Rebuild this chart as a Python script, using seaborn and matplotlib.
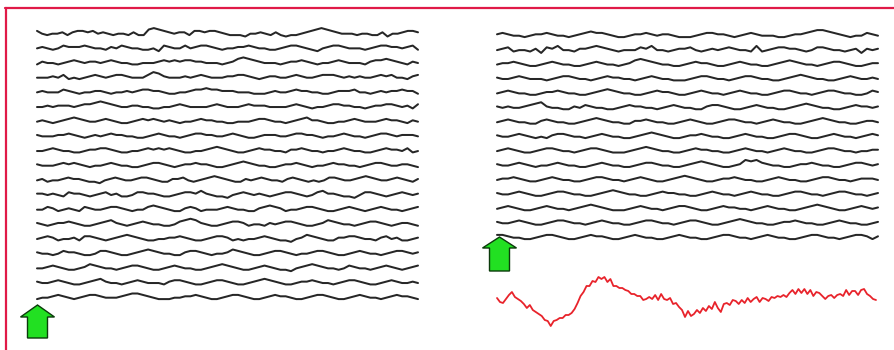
import numpy as np
import pandas as pd
import matplotlib
matplotlib.use("Agg")
import matplotlib.pyplot as plt
import seaborn as sns
from matplotlib.patches import Polygon
from matplotlib.lines import Line2D

# ---------------- data (hand-read wiggle levels, 0..9, 4.5 = baseline) -------------
left_traces = [
    "6434453566564543443533787654553665665433324454353233456787654443443352445665",
    "4543465556544354654433426544645665434455654433456654324566544434566554563",
    "3544345654554565443344456565665544434578765444345565434456544435667654354",
    "4445463434565456654446875444545654445566543455445654456665454544565644356",
    "4544465434455434454566554334456676655544433345445655443345556443454556553",
    "4454555456678765445544334456544445654445655544445654344566554434556654536",
    "4543456765445654334565654543445655443344456654434567554334456544456554354",
    "5444556543454565544334565443456655445654334555445665543445654434566545554",
    "4456544334556654334456565654334456765433456554435565443445654433456554634",
    "5444565654344565443345665434556554334567654433455654344565544345665445543",
    "45344565543324565445665433556434567654335456544356543434665445676544565435",
    "5545436554345645334665543345665754332456545434566543467554332466543456545",
    "4465345436544566543446765433565344456544335676534456654334565434565443456",
    "5434556543345675434565443346787543345665344354566543345765443456654345543",
    "4565344536654345676543344556543345665343445654332457654335566544356453345",
    "5443465543346654334567654433566543445765433456654344566543345654434566545",
    "4456543345765443456654334565443345676543345654332456765443465443456543456",
    "5445654334567544345654443566543345665433456765433455654434566543345654454",
    "3445654345665444567765433344556543345665433456554334566543345654434565543",
]
right_traces = [
    "5654434556544345676654334556545543334566554345654443345567887654344654",
    "4563443526574435567654344465744345564345456544373456655434665443452545",
    "4556543345654433456544345787654433456554334565443345676544345665433455",
    "5445654443456654434565544345654433345665443456654433456765443345654454",
    "4565443345565443345676544334565543345654434565443345665443456654433465",
    "5454456785443354654433456554434565443356654334565443345676544334565545",
    "4565443356544334567654433556544334565433456654434565443345676544334554",
    "5445654343566544345654433456765433455654433456544334566543345654434565",
    "4565433456654434566543334567654433456554433456544345654433456654434455",
    "5445654344565443345654433456654433456765433458786544334556544334566545",
    "4556543345654433456654434565433456765433455654433456544334566544345554",
    "5445654334566544334567654433456554433456544345654433456654434566544345",
    "4565433456544345676543334565443456654334565544345654433456765433456545",
    "5445654334566544345654433456654434566543345676544334556544334565443345",
    "6654433456654334565543345654433456544334566544345654433456654434566535",
]
red_v = [2, -2, -3, 1, 5, 8, 3, 1, -1, -4, -8, -5, -10, -12, -14, -16, -20, -21,
         -26, -21, -20, -18, -18, -15, -15, -13, -9, -3, 4, 8, 14, 14, 19, 18,
         23, 21, 23, 18, 21, 14, 14, 12, 12, 10, 9, 6, 6, 4, 4, 0, 1, 3, 1, 5,
         0, 6, 1, 0, 2, -4, -3, -7, -10, -17, -11, -16, -14, -10, -13, -8, -11,
         -6, -9, -2, -8, -12, -4, -3, -5, 0, -1, -4, 0, -3, 2, -2, 1, 3, -2, 2,
         1, -1, 3, 2, 4, 3, 5, 3, 7, 10, 6, 11, 7, 11, 6, 10, 4, 8, 7, 4, 1, 4,
         5, 2, 5, 6, 4, 10, 5, 9, 9, 5, 10, 11, 6, 4, 1, 0]
red_dt_ms = 3  # sampling period of the red trace

# ---------------- layout ------------------------------------------------------------
W, H = 894, 350
sns.set_theme(style="white")
fig = plt.figure(figsize=(W / 100, H / 100), dpi=100)
fig.patch.set_facecolor("white")


def px_axes(x0, x1, y0, y1):
    ax = fig.add_axes([x0 / W, 1 - y1 / H, (x1 - x0) / W, (y1 - y0) / H])
    ax.set_axis_off()
    return ax


def eeg_frame(strings, spacing, amp):
    rows = []
    for ch, s in enumerate(strings):
        d = np.array([int(c) for c in s], float)
        t = np.linspace(0, 1, len(d))
        v = ch * spacing - (d - 4.5) * amp
        rows.append(pd.DataFrame({"t": t, "v": v, "ch": ch}))
    return pd.concat(rows, ignore_index=True)


def draw_panel(strings, tx0, tx1, first_y, last_y, box):
    x0, x1, y0, y1 = box
    ax = px_axes(*box)
    spacing = (last_y - first_y) / (len(strings) - 1)
    df = eeg_frame(strings, spacing, 1.4)
    sns.lineplot(data=df, x="t", y="v", units="ch", estimator=None, sort=False,
                 color="#262626", lw=1.45, ax=ax, legend=False)
    ax.set_xlim((x0 - tx0) / (tx1 - tx0), (x1 - tx0) / (tx1 - tx0))
    ax.set_ylim(y1 - first_y, y0 - first_y)
    ax.set_axis_off()
    return ax


draw_panel(left_traces, 37, 418, 33, 297, (28, 428, 18, 306))
draw_panel(right_traces, 497, 878, 35, 237, (488, 888, 20, 246))

# red trace
axr = px_axes(488, 888, 260, 340)
red_t = np.arange(len(red_v)) * red_dt_ms
dfr = pd.DataFrame({"t": red_t, "v": red_v})
sns.lineplot(data=dfr, x="t", y="v", color="#e8232b", lw=1.3, ax=axr,
             estimator=None, sort=False)
span = red_t[-1]
sc = span / (876 - 497)
axr.set_xlim((488 - 497) * sc, (888 - 497) * sc)
axr.set_ylim(300 - 340, 300 - 260)
axr.set_axis_off()


# green arrows
def arrow(cx, top, hw, sw, head_base, bottom):
    pts = [(cx, top), (cx + hw, head_base), (cx + sw, head_base), (cx + sw, bottom),
           (cx - sw, bottom), (cx - sw, head_base), (cx - hw, head_base)]
    pts = [(x / W, 1 - y / H) for x, y in pts]
    fig.add_artist(Polygon(pts, closed=True, transform=fig.transFigure,
                           facecolor="#22e022", edgecolor="#0b3b0b", lw=1.0))


arrow(37.5, 305, 17, 10, 317, 338)
arrow(499.5, 237, 17, 10, 248, 271)

# red frame (top and left edges)
fig.add_artist(Line2D([5 / W, 1], [1 - 7.5 / H, 1 - 7.5 / H], color="#e01a48",
                      lw=1.6, transform=fig.transFigure))
fig.add_artist(Line2D([6 / W, 6 / W], [0, 1 - 7.5 / H], color="#e01a48",
                      lw=1.6, transform=fig.transFigure))

fig.savefig("out.png", dpi=100, facecolor="white")
